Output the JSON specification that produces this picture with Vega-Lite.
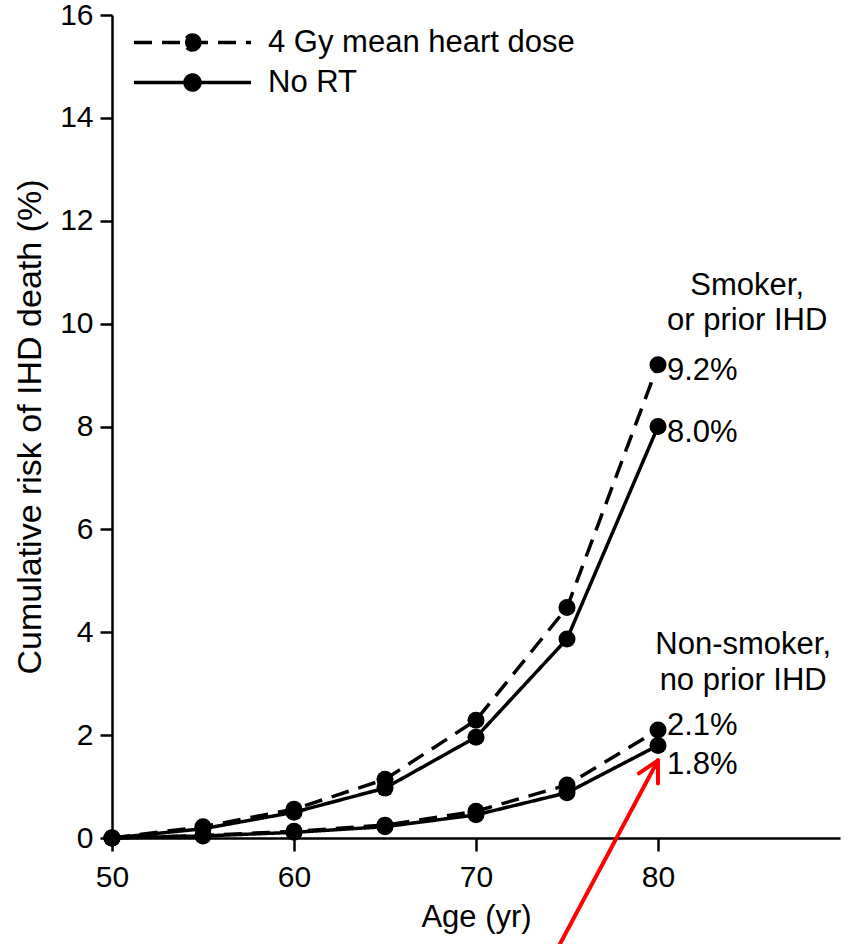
{
  "$schema": "https://vega.github.io/schema/vega-lite/v6.json",
  "width": 728,
  "height": 823,
  "autosize": "none",
  "padding": {"left": 112, "top": 15, "right": 10, "bottom": 106},
  "background": "white",
  "config": {
    "view": {"stroke": null},
    "font": "Liberation Sans",
    "axis": {
      "grid": false,
      "domainColor": "black",
      "domainWidth": 2.5,
      "tickColor": "black",
      "tickWidth": 2.5,
      "labelColor": "black",
      "titleColor": "black",
      "labelFont": "Liberation Sans",
      "titleFont": "Liberation Sans",
      "labelFontSize": 30,
      "labelFlush": false,
      "titleFontWeight": "normal"
    }
  },
  "datasets": {
    "risk": [
      {"group": "Smoker", "treatment": "4 Gy mean heart dose", "age": 50, "risk": 0},
      {"group": "Smoker", "treatment": "4 Gy mean heart dose", "age": 55, "risk": 0.22},
      {"group": "Smoker", "treatment": "4 Gy mean heart dose", "age": 60, "risk": 0.56},
      {"group": "Smoker", "treatment": "4 Gy mean heart dose", "age": 65, "risk": 1.14},
      {"group": "Smoker", "treatment": "4 Gy mean heart dose", "age": 70, "risk": 2.29},
      {"group": "Smoker", "treatment": "4 Gy mean heart dose", "age": 75, "risk": 4.48},
      {"group": "Smoker", "treatment": "4 Gy mean heart dose", "age": 80, "risk": 9.2},
      {"group": "Smoker", "treatment": "No RT", "age": 50, "risk": 0},
      {"group": "Smoker", "treatment": "No RT", "age": 55, "risk": 0.18},
      {"group": "Smoker", "treatment": "No RT", "age": 60, "risk": 0.5},
      {"group": "Smoker", "treatment": "No RT", "age": 65, "risk": 0.97},
      {"group": "Smoker", "treatment": "No RT", "age": 70, "risk": 1.96},
      {"group": "Smoker", "treatment": "No RT", "age": 75, "risk": 3.87},
      {"group": "Smoker", "treatment": "No RT", "age": 80, "risk": 8.0},
      {"group": "Non-smoker", "treatment": "4 Gy mean heart dose", "age": 50, "risk": 0},
      {"group": "Non-smoker", "treatment": "4 Gy mean heart dose", "age": 55, "risk": 0.05},
      {"group": "Non-smoker", "treatment": "4 Gy mean heart dose", "age": 60, "risk": 0.13},
      {"group": "Non-smoker", "treatment": "4 Gy mean heart dose", "age": 65, "risk": 0.25},
      {"group": "Non-smoker", "treatment": "4 Gy mean heart dose", "age": 70, "risk": 0.52},
      {"group": "Non-smoker", "treatment": "4 Gy mean heart dose", "age": 75, "risk": 1.03},
      {"group": "Non-smoker", "treatment": "4 Gy mean heart dose", "age": 80, "risk": 2.1},
      {"group": "Non-smoker", "treatment": "No RT", "age": 50, "risk": 0},
      {"group": "Non-smoker", "treatment": "No RT", "age": 55, "risk": 0.04},
      {"group": "Non-smoker", "treatment": "No RT", "age": 60, "risk": 0.11},
      {"group": "Non-smoker", "treatment": "No RT", "age": 65, "risk": 0.22},
      {"group": "Non-smoker", "treatment": "No RT", "age": 70, "risk": 0.45},
      {"group": "Non-smoker", "treatment": "No RT", "age": 75, "risk": 0.88},
      {"group": "Non-smoker", "treatment": "No RT", "age": 80, "risk": 1.8}
    ],
    "notes": [
      {"age": 84.9, "risk": 10.73, "note": "Smoker,"},
      {"age": 84.9, "risk": 10.05, "note": "or prior IHD"},
      {"age": 84.68, "risk": 3.745, "note": "Non-smoker,"},
      {"age": 84.68, "risk": 3.045, "note": "no prior IHD"}
    ],
    "arrow": [
      {"age": 74.1, "risk": -2.4, "age2": 80, "risk2": 1.51},
      {"age": 78.95, "risk": 1.255, "age2": 80, "risk2": 1.51},
      {"age": 80, "risk": 1.06, "age2": 80, "risk2": 1.51}
    ]
  },
  "encoding": {
    "x": {
      "field": "age",
      "type": "quantitative",
      "scale": {"domain": [50, 90], "nice": false, "zero": false},
      "axis": {
        "values": [50, 60, 70, 80],
        "title": "Age (yr)",
        "titleFontSize": 31,
        "tickSize": 13,
        "labelPadding": 11,
        "titlePadding": 10
      }
    },
    "y": {
      "field": "risk",
      "type": "quantitative",
      "scale": {"domain": [0, 16], "nice": false},
      "axis": {
        "values": [0, 2, 4, 6, 8, 10, 12, 14, 16],
        "title": "Cumulative risk of IHD death (%)",
        "titleFontSize": 34,
        "tickSize": 12,
        "labelPadding": 7,
        "titlePadding": 12
      }
    }
  },
  "layer": [
    {
      "data": {"name": "risk"},
      "mark": {"type": "line", "stroke": "black", "strokeWidth": 3.5},
      "encoding": {
        "detail": {"field": "group"},
        "strokeDash": {
          "field": "treatment",
          "type": "nominal",
          "scale": {"domain": ["4 Gy mean heart dose", "No RT"], "range": [[18, 10], [1, 0]]},
          "legend": {
            "title": null,
            "orient": "none",
            "legendX": 65,
            "legendY": 12,
            "symbolType": "M-5.85,0H5.85M0.75,0A0.75,0.75,0,1,1,-0.75,0A0.75,0.75,0,1,1,0.75,0Z",
            "symbolSize": 400,
            "symbolStrokeWidth": 3.5,
            "symbolStrokeColor": "black",
            "symbolFillColor": "black",
            "labelFontSize": 31,
            "labelFont": "Liberation Sans",
            "labelColor": "black",
            "labelLimit": 0,
            "labelOffset": 60,
            "rowPadding": 8,
            "encode": {
              "symbols": {"update": {"fill": {"value": "black"}, "stroke": {"value": "black"}, "opacity": {"value": 1}}}
            }
          }
        }
      }
    },
    {
      "data": {"name": "risk"},
      "mark": {"type": "circle", "color": "black", "size": 290, "opacity": 1}
    },
    {
      "data": {"name": "risk"},
      "transform": [
        {"filter": "datum.age === 80 && datum.group === 'Smoker'"},
        {"calculate": "format(datum.risk, '.1f') + '%'", "as": "label"}
      ],
      "mark": {"type": "text", "align": "left", "baseline": "middle", "dx": 9, "dy": 6, "fontSize": 31, "color": "black"},
      "encoding": {"text": {"field": "label"}}
    },
    {
      "data": {"name": "risk"},
      "transform": [
        {"filter": "datum.age === 80 && datum.group === 'Non-smoker' && datum.treatment === '4 Gy mean heart dose'"},
        {"calculate": "format(datum.risk, '.1f') + '%'", "as": "label"}
      ],
      "mark": {"type": "text", "align": "left", "baseline": "middle", "dx": 9, "dy": -4, "fontSize": 31, "color": "black"},
      "encoding": {"text": {"field": "label"}}
    },
    {
      "data": {"name": "risk"},
      "transform": [
        {"filter": "datum.age === 80 && datum.group === 'Non-smoker' && datum.treatment === 'No RT'"},
        {"calculate": "format(datum.risk, '.1f') + '%'", "as": "label"}
      ],
      "mark": {"type": "text", "align": "left", "baseline": "middle", "dx": 9, "dy": 20, "fontSize": 31, "color": "black"},
      "encoding": {"text": {"field": "label"}}
    },
    {
      "data": {"name": "notes"},
      "mark": {"type": "text", "align": "center", "baseline": "middle", "fontSize": 31, "color": "black"},
      "encoding": {"text": {"field": "note"}}
    },
    {
      "data": {"name": "arrow"},
      "mark": {"type": "rule", "color": "#ff0000", "strokeWidth": 4, "strokeCap": "round", "clip": false},
      "encoding": {
        "x2": {"field": "age2"},
        "y2": {"field": "risk2"}
      }
    }
  ]
}
